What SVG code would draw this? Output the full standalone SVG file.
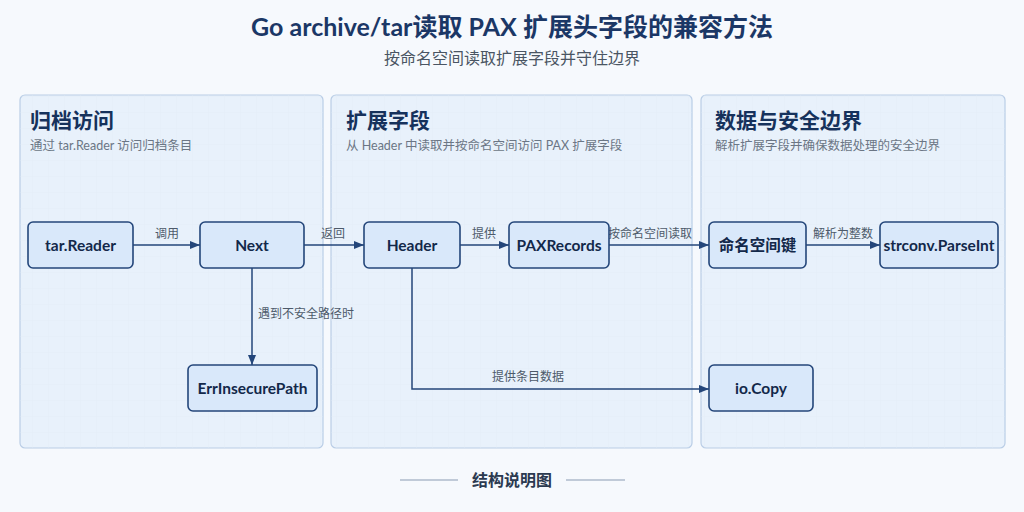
<svg xmlns="http://www.w3.org/2000/svg" width="1024" height="512" viewBox="0 0 1024 512">
<style>
text{font-family:Lato,"Noto Sans CJK SC",sans-serif}
.panel{fill:#e8f1fb;stroke:#b9cde6;stroke-width:1.2}
.ptitle{font-size:21px;font-weight:700;fill:#16325c}
.psub{font-size:12.5px;fill:#6b7685}
.node rect{fill:#d9e8fa;stroke:#24467a;stroke-width:1.6}
.node text{font-size:15.5px;font-weight:700;fill:#13284a;text-anchor:middle}
.edge{fill:none;stroke:#24467a;stroke-width:1.5}
.lbl{font-size:12px;fill:#4d5a6a}
</style>
<defs>
<marker id="ah" viewBox="0 0 10 10" refX="10" refY="5" markerWidth="7" markerHeight="7" orient="auto"><path d="M0,1 L10,5 L0,9 z" fill="#24467a"/></marker>
<pattern id="grid" width="16" height="16" patternUnits="userSpaceOnUse"><path d="M16 0H0V16" fill="none" stroke="#dfe9f5" stroke-width="0.6"/></pattern>
</defs>
<rect width="1024" height="512" fill="#f6f9fd"/>
<text x="512" y="36" text-anchor="middle" font-size="25" font-weight="700" fill="#1b3766">Go archive/tar读取 PAX 扩展头字段的兼容方法</text>
<text x="512" y="64" text-anchor="middle" font-size="16" fill="#4a5563">按命名空间读取扩展字段并守住边界</text>
<g id="panel1"><rect class="panel" x="20" y="95" width="303" height="353" rx="5"/><rect x="20" y="95" width="303" height="353" rx="5" fill="url(#grid)"/>
<text class="ptitle" x="30" y="128">归档访问</text><text class="psub" x="30" y="150">通过 tar.Reader 访问归档条目</text></g>
<g id="panel2"><rect class="panel" x="331" y="95" width="361" height="353" rx="5"/><rect x="331" y="95" width="361" height="353" rx="5" fill="url(#grid)"/>
<text class="ptitle" x="346" y="128">扩展字段</text><text class="psub" x="346" y="150">从 Header 中读取并按命名空间访问 PAX 扩展字段</text></g>
<g id="panel3"><rect class="panel" x="701" y="95" width="304" height="353" rx="5"/><rect x="701" y="95" width="304" height="353" rx="5" fill="url(#grid)"/>
<text class="ptitle" x="715" y="128">数据与安全边界</text><text class="psub" x="715" y="150">解析扩展字段并确保数据处理的安全边界</text></g>
<g id="connectors">
<path class="edge" d="M133 245H200" marker-end="url(#ah)"/><text class="lbl" x="167" y="238" text-anchor="middle">调用</text>
<path class="edge" d="M304 245H364" marker-end="url(#ah)"/><text class="lbl" x="333" y="238" text-anchor="middle">返回</text>
<path class="edge" d="M460 245H509" marker-end="url(#ah)"/><text class="lbl" x="484" y="238" text-anchor="middle">提供</text>
<path class="edge" d="M609 245H709" marker-end="url(#ah)"/><text class="lbl" x="650" y="238" text-anchor="middle">按命名空间读取</text>
<path class="edge" d="M806 245H880" marker-end="url(#ah)"/><text class="lbl" x="843" y="238" text-anchor="middle">解析为整数</text>
<path class="edge" d="M252 268V365" marker-end="url(#ah)"/><text class="lbl" x="258" y="318">遇到不安全路径时</text>
<path class="edge" d="M412 268V389H709" marker-end="url(#ah)"/><text class="lbl" x="528" y="381" text-anchor="middle">提供条目数据</text>
</g>
<g id="n-tarReader" class="node"><rect x="28" y="222" width="105" height="46" rx="5"/><text x="80.5" y="251">tar.Reader</text></g>
<g id="n-Next" class="node"><rect x="200" y="222" width="104" height="46" rx="5"/><text x="252" y="251">Next</text></g>
<g id="n-Header" class="node"><rect x="364" y="222" width="96" height="46" rx="5"/><text x="412" y="251">Header</text></g>
<g id="n-PAXRecords" class="node"><rect x="509" y="222" width="100" height="46" rx="5"/><text x="559" y="251">PAXRecords</text></g>
<g id="n-nskey" class="node"><rect x="709" y="222" width="97" height="46" rx="5"/><text x="757.5" y="251">命名空间键</text></g>
<g id="n-ParseInt" class="node"><rect x="880" y="222" width="118" height="46" rx="5"/><text x="939" y="251">strconv.ParseInt</text></g>
<g id="n-ErrInsecurePath" class="node"><rect x="188" y="365" width="129" height="46" rx="5"/><text x="252.5" y="394">ErrInsecurePath</text></g>
<g id="n-ioCopy" class="node"><rect x="709" y="365" width="104" height="46" rx="5"/><text x="761" y="394">io.Copy</text></g>
<line x1="400" y1="480" x2="458" y2="480" stroke="#8a9bb3" stroke-width="1.2"/>
<line x1="566" y1="480" x2="625" y2="480" stroke="#8a9bb3" stroke-width="1.2"/>
<text x="512" y="486" text-anchor="middle" font-size="16" font-weight="700" fill="#2b3a50">结构说明图</text>
</svg>
